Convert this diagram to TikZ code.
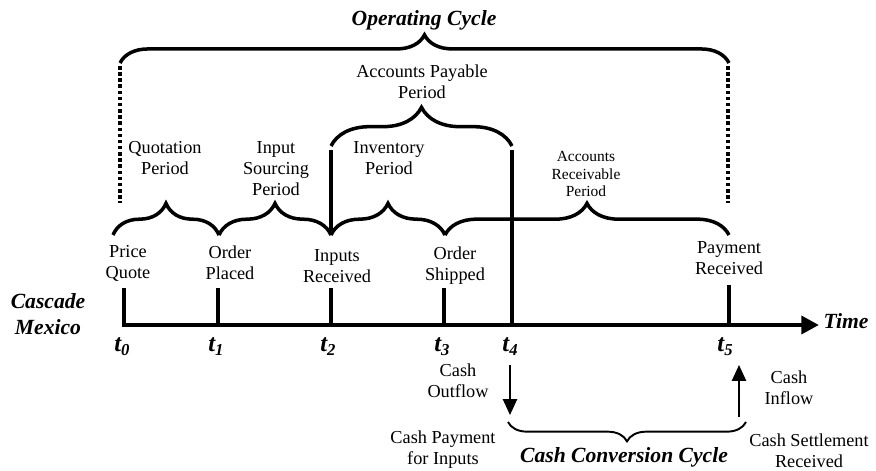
\documentclass[tikz,border=0pt]{standalone}
\usepackage{fontspec}
\setmainfont{Liberation Serif}
\usetikzlibrary{arrows.meta, decorations.pathreplacing}
\tikzstyle{lbl} = [align=center, inner sep=0pt, font=\fontsize{10.4}{12}\selectfont]
\tikzstyle{smalllbl} = [align=center, inner sep=0pt, font=\fontsize{8.8}{10.2}\selectfont]
\tikzstyle{title} = [align=center, inner sep=0pt, font=\fontsize{12.3}{14.5}\selectfont\bfseries\itshape]
\tikzstyle{tlbl} = [inner sep=0pt, font=\fontsize{14}{16}\selectfont\bfseries\itshape]
\tikzstyle{brc} = [line width=2pt, decorate]
\tikzstyle{tickline} = [line width=2.2pt]
\tikzstyle{flow} = [line width=1.1pt, -{Triangle[width=8pt,length=9pt]}]
\tikzstyle{dots} = [line width=2pt, dash pattern=on 2pt off 1.5pt]
\newcommand{\tsub}[1]{t\raisebox{-0.35ex}{\fontsize{9.5}{10}\selectfont #1}}

\begin{document}
\begin{tikzpicture}
            \useasboundingbox (0,0) rectangle (17.52,9.4);
            \coordinate (a0) at (2.48,2.9);
            \coordinate (a1) at (4.36,2.9);
            \coordinate (a2) at (6.62,2.9);
            \coordinate (a3) at (8.88,2.9);
            \coordinate (a4) at (10.24,2.9);
            \coordinate (a5) at (14.58,2.9);
            \coordinate (tip) at (16.38,2.9);
            \coordinate (b0) at (2.48,3.64);
            \coordinate (b1) at (4.36,3.64);
            \coordinate (b2) at (6.62,3.64);
            \coordinate (b3) at (8.88,3.64);
            \coordinate (b4) at (10.24,6.4);
            \coordinate (b5) at (14.58,3.7);
            \draw[line width=2.7pt, -{Triangle[width=10pt,length=10pt]}] (b0) -- (a0) -- (tip);
            \draw[tickline] (a1) -- (b1);
            \draw[tickline] (a2) -- (b2);
            \draw[tickline] (a3) -- (b3);
            \draw[tickline] (a4) -- (b4);
            \draw[tickline] (a5) -- (b5);
            \node[tlbl] (t0) at (2.44,2.46) {\tsub{0}};
            \node[tlbl] (t1) at (4.32,2.46) {\tsub{1}};
            \node[tlbl] (t2) at (6.56,2.46) {\tsub{2}};
            \node[tlbl] (t3) at (8.84,2.46) {\tsub{3}};
            \node[tlbl] (t4) at (10.2,2.46) {\tsub{4}};
            \node[tlbl] (t5) at (14.5,2.46) {\tsub{5}};
            \node[title] (firm) at (0.96,3.12) {Cascade\\Mexico};
            \node[title] (time) at (16.92,2.98) {Time};
            \node[lbl] (quote) at (2.56,4.14) {Price\\Quote};
            \node[lbl] (placed) at (4.6,4.14) {Order\\Placed};
            \node[lbl] (inputs) at (6.74,4.08) {Inputs\\Received};
            \node[lbl] (shipped) at (9.1,4.08) {Order\\Shipped};
            \node[lbl] (paid) at (14.58,4.24) {Payment\\Received};
            \coordinate (c0) at (2.26,4.7);
            \coordinate (c1) at (4.38,4.7);
            \coordinate (c2) at (6.62,4.7);
            \coordinate (c3) at (8.9,4.7);
            \coordinate (c5) at (14.58,4.7);
            \draw[brc, decoration={brace, amplitude=18pt}] (c0) -- (c1);
            \draw[brc, decoration={brace, amplitude=18pt}] (c1) -- (c2);
            \draw[brc, decoration={brace, amplitude=18pt}] (c2) -- (c3);
            \draw[brc, decoration={brace, amplitude=18pt}] (c3) -- (c5);
            \node[lbl] (qp) at (3.3,6.24) {Quotation\\Period};
            \node[lbl] (isp) at (5.52,6.02) {Input\\Sourcing\\Period};
            \node[lbl] (invp) at (7.78,6.24) {Inventory\\Period};
            \node[smalllbl] (arp) at (11.72,5.92) {Accounts\\Receivable\\Period};
            \coordinate (d2) at (6.62,6.4);
            \draw[tickline] (d2) -- (c2);
            \coordinate (e2) at (6.62,6.48);
            \coordinate (e4) at (10.24,6.48);
            \draw[brc, decoration={brace, amplitude=22pt}] (e2) -- (e4);
            \node[lbl] (app) at (8.44,7.76) {Accounts Payable\\Period};
            \coordinate (f0) at (2.4,8.14);
            \coordinate (f5) at (14.58,8.14);
            \coordinate (g0) at (2.4,5.34);
            \coordinate (g5) at (14.56,5.34);
            \draw[brc, decoration={brace, amplitude=16pt}] (f0) -- (f5);
            \draw[dots] (2.4,8.08) -- (g0);
            \draw[dots] (14.56,8.08) -- (g5);
            \node[title] (oc) at (8.48,9.0) {Operating Cycle};
            \coordinate (out1) at (10.2,2.1);
            \coordinate (out2) at (10.2,1.1);
            \coordinate (in1) at (14.78,1.06);
            \coordinate (in2) at (14.78,2.1);
            \draw[flow] (out1) -- (out2);
            \draw[flow] (in1) -- (in2);
            \node[lbl] (outflow) at (9.16,1.78) {Cash\\Outflow};
            \node[lbl] (inflow) at (15.78,1.64) {Cash\\Inflow};
            \node[lbl] (payment) at (8.86,0.4) {Cash Payment\\for Inputs};
            \node[lbl] (settle) at (16.18,0.38) {Cash Settlement\\Received};
            \coordinate (h4) at (10.16,0.96);
            \coordinate (h5) at (14.92,0.96);
            \draw[line width=1.1pt, decorate, decoration={brace, amplitude=11pt}] (h5) -- (h4);
            \node[title] (ccc) at (12.48,0.26) {Cash Conversion Cycle};
        \end{tikzpicture}
\end{document}
